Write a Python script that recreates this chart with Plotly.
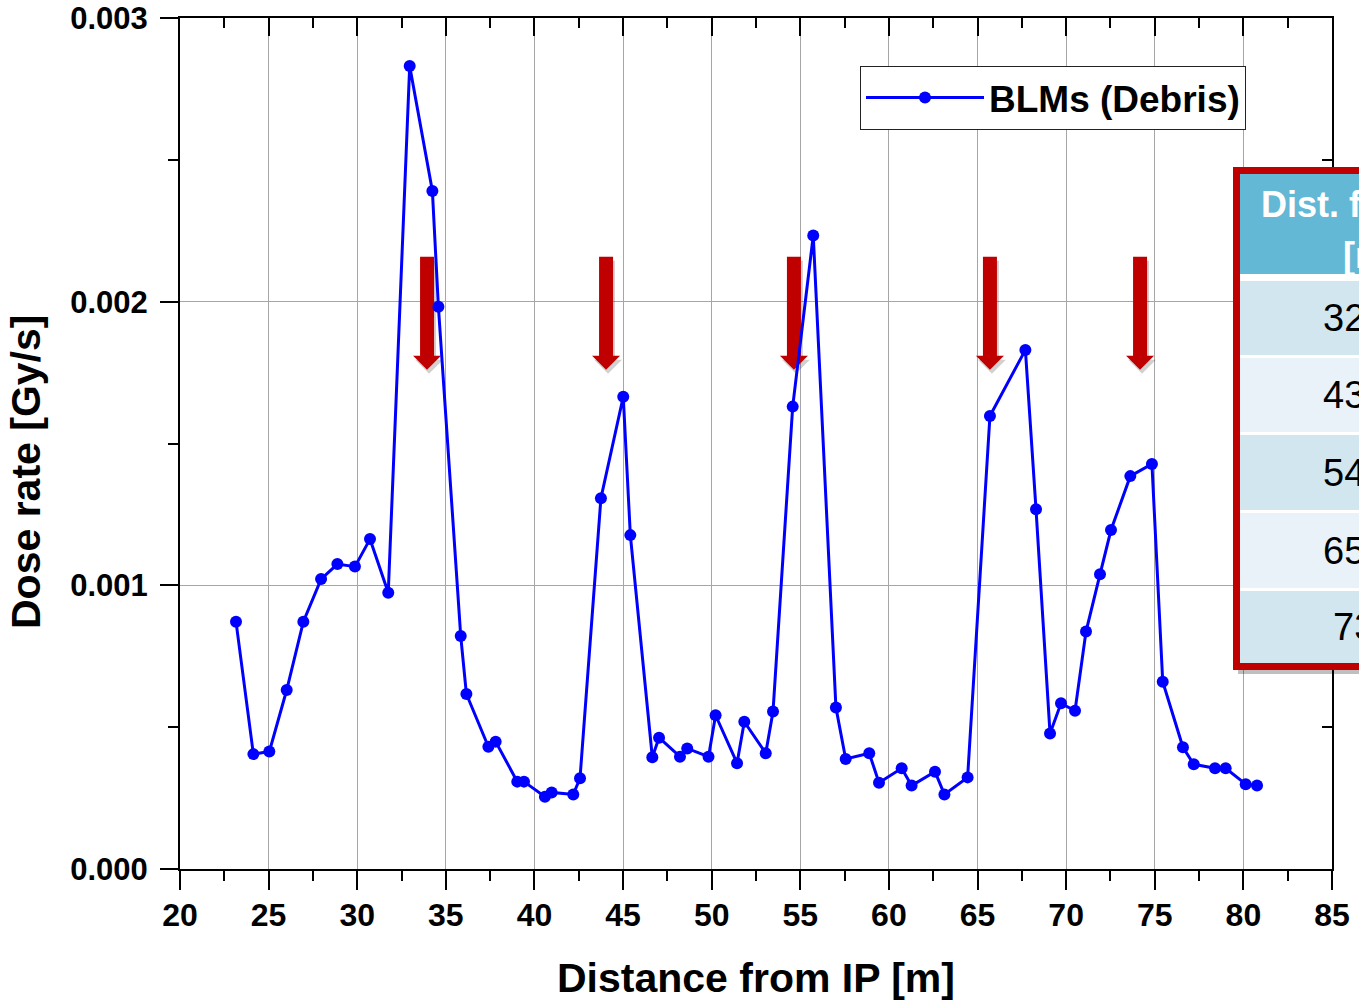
import plotly.graph_objects as go

# ---------------- data ----------------
distance_m = [23.16, 24.14, 25.04, 26.02, 26.96, 27.96, 28.88, 29.87, 30.72, 31.75,
              32.96, 34.24, 34.58, 35.84, 36.16, 37.40, 37.81, 39.03, 39.41, 40.59,
              40.97, 42.19, 42.57, 43.75, 45.01, 45.41, 46.65, 47.03, 48.21, 48.62,
              49.82, 50.22, 51.43, 51.84, 53.05, 53.46, 54.57, 55.73, 57.01, 57.56,
              58.89, 59.44, 60.72, 61.28, 62.60, 63.13, 64.44, 65.70, 67.70, 68.30,
              69.09, 69.71, 70.50, 71.12, 71.91, 72.53, 73.62, 74.84, 75.45, 76.59,
              77.20, 78.40, 79.00, 80.13, 80.77]
dose_rate = [0.000872, 0.000405, 0.000414, 0.000631, 0.000872, 0.001022, 0.001075, 0.001066,
             0.001163, 0.000974, 0.002831, 0.002390, 0.001982, 0.000821, 0.000617, 0.000431,
             0.000449, 0.000308, 0.000308, 0.000255, 0.000270, 0.000263, 0.000320, 0.001307,
             0.001665, 0.001177, 0.000394, 0.000463, 0.000396, 0.000425, 0.000396, 0.000542,
             0.000373, 0.000519, 0.000408, 0.000555, 0.001630, 0.002233, 0.000569, 0.000388,
             0.000408, 0.000304, 0.000355, 0.000294, 0.000343, 0.000263, 0.000323, 0.001597,
             0.001830, 0.001268, 0.000478, 0.000584, 0.000558, 0.000837, 0.001039, 0.001195,
             0.001385, 0.001428, 0.000660, 0.000429, 0.000369, 0.000355, 0.000355, 0.000299,
             0.000294]
series_name = "BLMs (Debris)"
arrow_x = [33.94, 44.04, 54.64, 65.70, 74.17]
table_header = ["Dist. from IP", "[m]"]
table_values = ["32", "43", "54", "65", "73"]
x_title = "Distance from IP [m]"
y_title = "Dose rate [Gy/s]"

x_range = [20, 85]
y_range = [0, 0.003]
x_ticks = list(range(20, 86, 5))
y_ticks = [0, 0.001, 0.002, 0.003]

# ---------------- layout helpers ----------------
W, H = 1359, 1001
L, R, T, B = 180, 1332, 18, 869


def px(X):
    return (X - L) / (R - L)


def py(Y):
    return (B - Y) / (B - T)


FONT = "Arial, Liberation Sans, sans-serif"
RED = "#c00000"

fig = go.Figure()
fig.add_trace(go.Scatter(
    x=distance_m, y=dose_rate, name=series_name, mode="lines+markers",
    line=dict(color="#0000ff", width=3), marker=dict(color="#0000ff", size=12),
))
# empty trace to hold the mirrored top/right axes
fig.add_trace(go.Scatter(x=[], y=[], xaxis="x2", yaxis="y2", showlegend=False,
                         hoverinfo="skip"))

axis_common = dict(showline=True, linecolor="black", linewidth=2, zeroline=False,
                   automargin=False)

fig.update_layout(
    width=W, height=H,
    margin=dict(l=L, r=W - R, t=T, b=H - B, autoexpand=False),
    paper_bgcolor="white", plot_bgcolor="white",
    font=dict(family=FONT, color="black"),
    xaxis=dict(
        range=x_range, tickvals=x_ticks, ticks="outside", ticklen=19, tickwidth=2,
        tickcolor="black", showgrid=True, gridcolor="#a6a6a6", gridwidth=1,
        tickfont=dict(size=32, weight="bold", family=FONT), ticklabelstandoff=-2,
        minor=dict(dtick=2.5, ticks="outside", ticklen=10, tickwidth=2,
                   tickcolor="black", showgrid=False),
        title=dict(text=x_title, font=dict(size=41, weight="bold", family=FONT),
                   standoff=34),
        **axis_common,
    ),
    yaxis=dict(
        range=y_range, tickvals=y_ticks, tickformat=".3f", ticks="outside", ticklen=18,
        tickwidth=2, tickcolor="black", showgrid=True, gridcolor="#a6a6a6", gridwidth=1,
        tickfont=dict(size=31, weight="bold", family=FONT), ticklabelstandoff=6,
        minor=dict(dtick=0.0005, ticks="outside", ticklen=10, tickwidth=2,
                   tickcolor="black", showgrid=False),
        **axis_common,
    ),
    xaxis2=dict(
        range=x_range, tickvals=x_ticks, overlaying="x", side="top", ticks="inside",
        ticklen=18, tickwidth=2, tickcolor="black", showticklabels=False, showgrid=False,
        minor=dict(dtick=2.5, ticks="inside", ticklen=10, tickwidth=2, tickcolor="black",
                   showgrid=False),
        **axis_common,
    ),
    yaxis2=dict(
        range=y_range, tickvals=y_ticks, overlaying="y", side="right", ticks="inside",
        ticklen=18, tickwidth=2, tickcolor="black", showticklabels=False, showgrid=False,
        minor=dict(dtick=0.0005, ticks="inside", ticklen=10, tickwidth=2, tickcolor="black",
                   showgrid=False),
        **axis_common,
    ),
    legend=dict(
        x=px(860), y=py(66), xanchor="left", yanchor="top",
        bgcolor="white", bordercolor="#222222", borderwidth=1,
        font=dict(size=37, weight="bold", family=FONT, color="black"),
        itemwidth=118,
    ),
    showlegend=True,
)

shapes = []
# red block arrows (pixel-sized, anchored at each arrow position)
arrow_path = "M0,0 L-14,14 L-7,14 L-7,113 L7,113 L7,14 L14,14 Z"
shadow_path = "M2,-4 L-12,10 L-5,10 L-5,109 L9,109 L9,10 L16,10 Z"
tip_y = 0.00176
for ax in arrow_x:
    shapes.append(dict(type="path", xref="x", yref="y", xsizemode="pixel", ysizemode="pixel",
                       xanchor=ax, yanchor=tip_y, path=shadow_path,
                       fillcolor="rgba(0,0,0,0.18)", line=dict(width=0), layer="between"))
    shapes.append(dict(type="path", xref="x", yref="y", xsizemode="pixel", ysizemode="pixel",
                       xanchor=ax, yanchor=tip_y, path=arrow_path,
                       fillcolor=RED, line=dict(width=0), layer="between"))

# table box (partially cut by the right edge)
right_edge = 1420
shapes.append(dict(type="rect", xref="paper", yref="paper",
                   x0=px(1238), x1=px(right_edge), y0=py(674), y1=py(171),
                   fillcolor="rgba(0,0,0,0.25)", line=dict(width=0), layer="above"))
shapes.append(dict(type="rect", xref="paper", yref="paper",
                   x0=px(1240), x1=px(right_edge), y0=py(663), y1=py(174),
                   fillcolor="white", line=dict(width=0), layer="above"))
shapes.append(dict(type="rect", xref="paper", yref="paper",
                   x0=px(1240), x1=px(right_edge), y0=py(274), y1=py(174),
                   fillcolor="#63b8d6", line=dict(width=0), layer="above"))
row_bounds = [(281, 355), (358, 432), (435, 510), (513, 588), (591, 663)]
row_colors = ["#d2e6f0", "#e9f2f8", "#d2e6f0", "#e9f2f8", "#d2e6f0"]
for (y0, y1), c in zip(row_bounds, row_colors):
    shapes.append(dict(type="rect", xref="paper", yref="paper",
                       x0=px(1240), x1=px(right_edge), y0=py(y1), y1=py(y0),
                       fillcolor=c, line=dict(width=0), layer="above"))
shapes.append(dict(type="rect", xref="paper", yref="paper",
                   x0=px(1236.5), x1=px(right_edge), y0=py(666.5), y1=py(170.5),
                   fillcolor="rgba(0,0,0,0)", line=dict(color=RED, width=7), layer="above"))
fig.update_layout(shapes=shapes)

annotations = [
    dict(text=y_title, xref="paper", yref="paper", x=px(26), y=py(472),
         xanchor="center", yanchor="middle", textangle=-90, showarrow=False,
         font=dict(size=41, weight="bold", family=FONT, color="black")),
    dict(text=table_header[0], xref="paper", yref="paper", x=px(1259), y=py(204),
         xanchor="left", yanchor="middle", showarrow=False,
         font=dict(size=36, weight="bold", color="white", family=FONT)),
    dict(text=table_header[1], xref="paper", yref="paper", x=px(1341), y=py(255),
         xanchor="left", yanchor="middle", showarrow=False,
         font=dict(size=36, weight="bold", color="white", family=FONT)),
]
value_x = [1321, 1321, 1321, 1321, 1331]
for (y0, y1), v, vx in zip(row_bounds, table_values, value_x):
    annotations.append(dict(text=v, xref="paper", yref="paper", x=px(vx), y=py((y0 + y1) / 2),
                            xanchor="left", yanchor="middle", showarrow=False,
                            font=dict(size=38, color="black", family=FONT)))
fig.update_layout(annotations=annotations)

fig.write_html(
    "out.html",
    config={"displayModeBar": False},
    post_script="document.body.style.margin='0';document.body.style.overflow='hidden';",
)
